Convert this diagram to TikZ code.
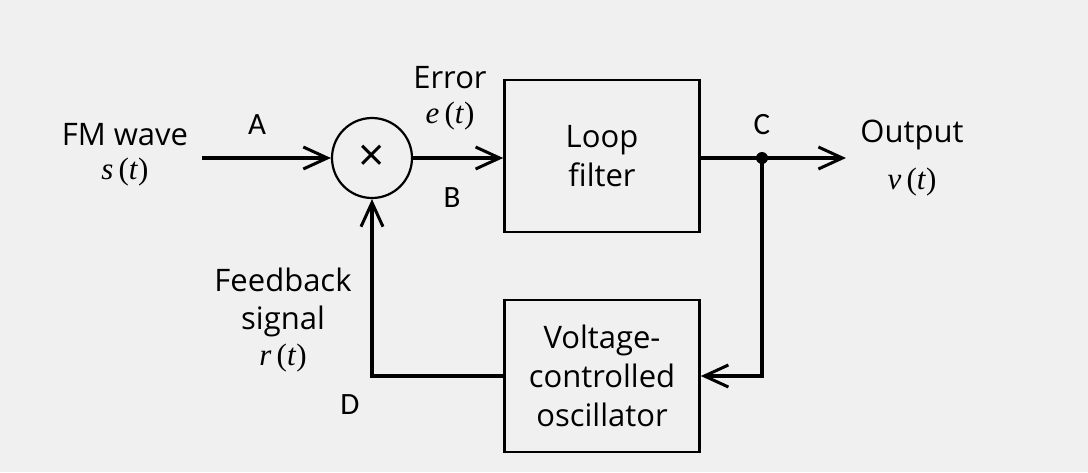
\documentclass[tikz,border=0pt]{standalone}
\usepackage{fontspec}
\setmainfont{Open Sans}
\newfontfamily\pointfont{Carlito}
\newfontfamily\seriffont{Liberation Serif}
\usetikzlibrary{arrows.meta}
\newcommand\sigof[1]{{\seriffont\fontsize{31}{36}\selectfont\textit{#1}\,(\textit{t})}}

\begin{document}
\begin{tikzpicture}[x=1pt,y=-1pt,
    >={Straight Barb[length=24pt,width=22pt,line width=3pt]},
    font=\fontsize{31}{39}\selectfont,
    wire/.style={line width=3.8pt},
    block/.style={draw,line width=2.6pt,minimum width=195pt,minimum height=152pt,align=center,inner sep=0pt},
    point/.style={font=\pointfont\fontsize{31}{36}\selectfont}]
  \fill[white!94!black] (0,0) rectangle (1088,472);
  \useasboundingbox (0,0) rectangle (1088,472);

  \node[draw,circle,line width=2.2pt,minimum size=80pt,inner sep=0pt,font=\fontsize{46}{46}\selectfont] (mult) at (372,158) {×};
  \node[block] (filter) at (602,156) {Loop\\filter};
  \node[block] (vco) at (602,376) {Voltage-\\controlled\\oscillator};
  \coordinate (in) at (202,158);
  \coordinate (C) at (762,158);
  \coordinate (out) at (846,158);

  \draw[wire,->] (in) -- (mult);
  \draw[wire,->] (mult) -- (mult -| filter.west);
  \draw[wire] (C -| filter.east) -- (C);
  \draw[wire,->] (C) -- (out);
  \draw[wire,->] (C) |- (vco.east);
  \draw[wire,->] (vco.west) -| (mult.south);
  \fill (C) circle (6pt);

  \node (fm) at (125,135) {FM wave};
  \node (s) at (125,172) {\sigof{s}};
  \node (err) at (450,78) {Error};
  \node (e) at (450,116) {\sigof{e}};
  \node (outtxt) at (912,135) {Output};
  \node (v) at (912,182) {\sigof{v}};
  \node (fb) at (283,280) {Feedback};
  \node (sig) at (283,321) {signal};
  \node (r) at (283,358) {\sigof{r}};

  \node[point] (A) at (257,125) {A};
  \node[point] (B) at (452,198) {B};
  \node[point] (Cl) at (762,125) {C};
  \node[point] (D) at (350,405) {D};
\end{tikzpicture}
\end{document}
